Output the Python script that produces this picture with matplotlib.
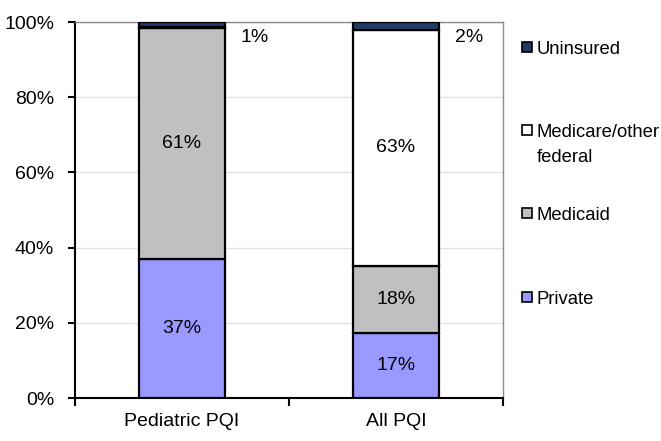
import numpy as np
import matplotlib.pyplot as plt
from matplotlib.patches import Rectangle
from matplotlib.ticker import PercentFormatter

plt.rcParams['font.family'] = ['Liberation Sans', 'DejaVu Sans']

# --- data (percent of discharges) ---
groups = ["Pediatric PQI", "All PQI"]
payers = ["Private", "Medicaid", "Medicare/other\nfederal", "Uninsured"]
private = [37.0, 17.4]
medicaid = [61.4, 17.7]
medicare = [0.3, 62.9]
uninsured = [1.3, 2.0]

colors = ["#9999ff", "#c0c0c0", "#ffffff", "#1f3b66"]
FS = 14

fig = plt.figure(figsize=(6.61, 4.41), dpi=100)
ax = fig.add_axes([0.1135, 0.0975, 0.6475, 0.8526])

x = np.arange(len(groups))
series = [private, medicaid, medicare, uninsured]
bottom = np.zeros(len(groups))
for name, vals, col in zip(payers, series, colors):
    vals = np.array(vals)
    ax.bar(x, vals, width=0.4, bottom=bottom, color=col,
           edgecolor="black", linewidth=1.6, label=name, zorder=3)
    if name == "Uninsured":
        # small uninsured share labelled beside the bar top
        for xi, v in zip(x, vals):
            ax.text(xi + 0.34, 95.8, f"{v:.0f}%", ha="center", va="center",
                    fontsize=FS, zorder=4)
    else:
        for xi, b, v in zip(x, bottom, vals):
            if v > 5:
                ax.text(xi, b + v / 2, f"{v:.0f}%", ha="center", va="center",
                        fontsize=FS, zorder=4)
    bottom = bottom + vals

ax.set_xlim(-0.5, 1.5)
ax.set_ylim(0, 100)
ax.set_yticks(np.arange(0, 101, 20))
ax.yaxis.set_major_formatter(PercentFormatter(decimals=0))
ax.set_xticks(x)
ax.set_xticklabels(groups)
ax.set_xticks([-0.5, 0.5, 1.5], minor=True)
ax.tick_params(axis="x", which="major", length=0, pad=10.5, labelsize=FS)
ax.tick_params(axis="x", which="minor", length=6, width=1.5, direction="out")
ax.tick_params(axis="y", length=5, width=1.5, direction="out", labelsize=FS, pad=10)

ax.yaxis.grid(True, color="#e3e3e3", linewidth=1, zorder=0)
ax.set_axisbelow(True)
for s in ["left", "bottom"]:
    ax.spines[s].set_linewidth(1.5)
    ax.spines[s].set_color("black")
for s in ["top", "right"]:
    ax.spines[s].set_linewidth(1)
    ax.spines[s].set_color("#8c8c8c")

# --- legend, drawn by hand: evenly spaced keys, top to bottom ---
key_y = [0.9335, 0.7128, 0.492, 0.2686]
line_step = 0.0665
for ky, name, col in zip(key_y, payers[::-1], colors[::-1]):
    ax.add_patch(Rectangle((1.044, ky - 0.013), 0.023, 0.026,
                           transform=ax.transAxes, facecolor=col,
                           edgecolor="black", linewidth=1.2, clip_on=False))
    for i, line in enumerate(name.split("\n")):
        ax.text(1.078, ky - 0.019 - i * line_step, line, transform=ax.transAxes,
                ha="left", va="baseline", fontsize=13.3)

fig.savefig("out.png", dpi=100)
